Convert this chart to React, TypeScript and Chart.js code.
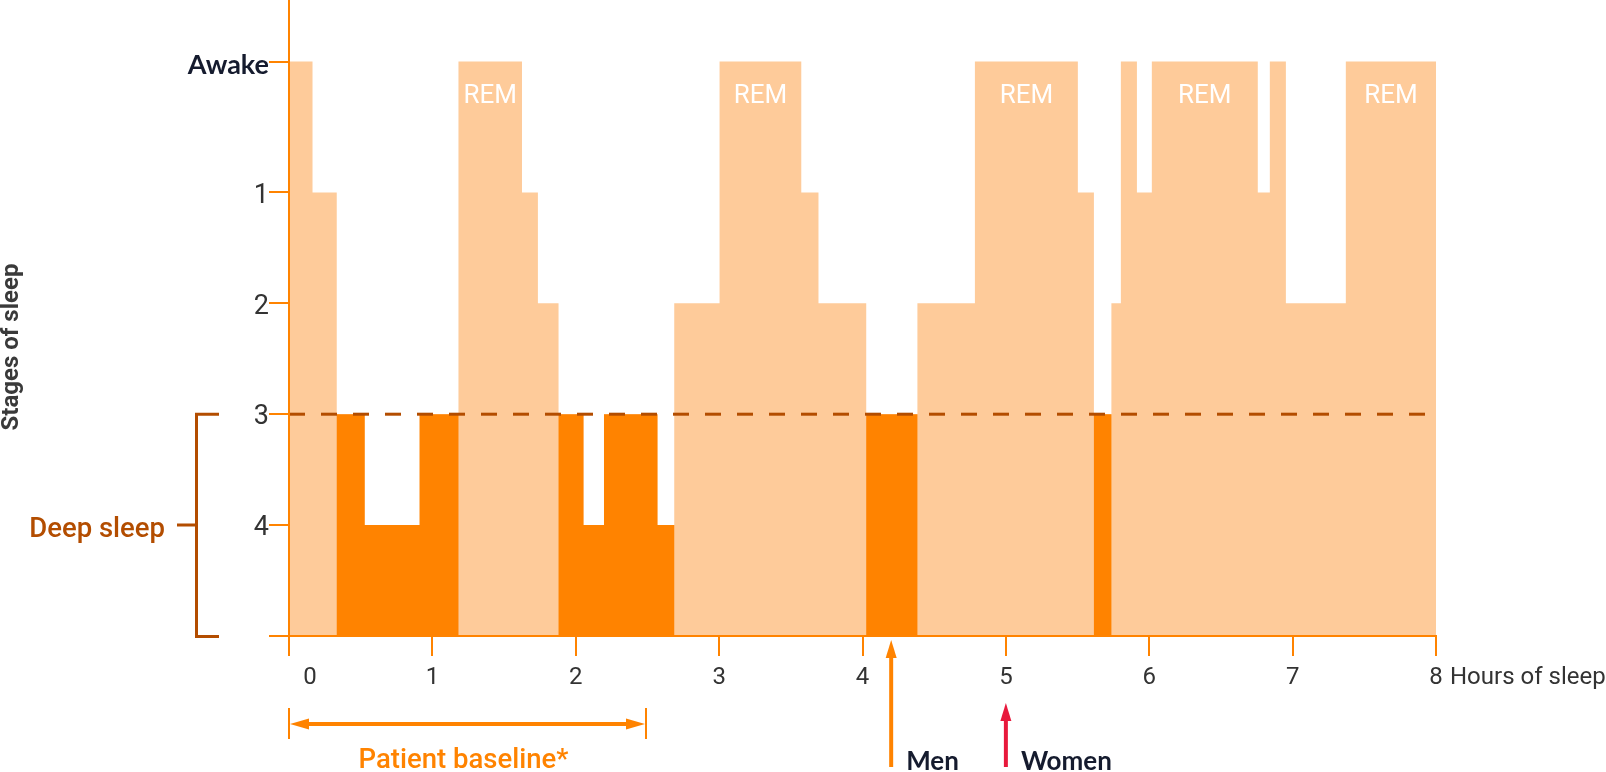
import React, { useEffect, useRef } from 'react';
import { Chart, registerables } from 'chart.js';

Chart.register(...registerables);

// ---- data ----
const HOURS_MAX = 8;
const segmentStarts = [
  0, 0.164, 0.333, 0.528, 0.911, 1.182, 1.625, 1.736, 1.88, 2.054, 2.197, 2.57, 2.687,
  3.003, 3.573, 3.693, 4.026, 4.383, 4.784, 5.502, 5.614, 5.736, 5.802, 5.914, 6.018,
  6.757, 6.841, 6.953, 7.371,
];
const segmentStages = [
  'Awake', '1', '3', '4', '3', 'REM', '1', '2', '3', '4', '3', '4', '2',
  'REM', '1', '2', '3', '2', 'REM', '1', '3', '2', 'Awake', '1', 'REM',
  '1', 'Awake', '2', 'REM',
];
const stageLevel: Record<string, number> = { '4': 1, '3': 2, '2': 3, '1': 4, REM: 5.18, Awake: 5.18 };
const deepStages = ['3', '4'];
const yTickValues = [0, 1, 2, 3, 4, 5.18];
const yTickLabels = ['', '4', '3', '2', '1', 'Awake'];
const xTickValues = [0, 1, 2, 3, 4, 5, 6, 7, 8];
const Y_MAX = 5.735;
const menHours = 4.2;
const womenHours = 5.0;
const baselineHours = 2.49;

// ---- styles ----
const ORANGE = '#FF8300';
const LIGHT = '#FECB9A';
const BROWN = '#B34D00';
const NAVY = '#151B2E';
const GREY = '#333333';
const RED = '#E8193C';
const X_FONT = 24;
const X_PAD = 8;

const segEnds = segmentStarts.slice(1).concat([HOURS_MAX]);

function stepData(deepOnly: boolean) {
  const pts = segmentStarts.map((s, i) => {
    const st = segmentStages[i];
    const lvl = stageLevel[st];
    return { x: s, y: deepOnly ? (deepStages.includes(st) ? lvl : 0) : lvl };
  });
  pts.push({ x: HOURS_MAX, y: pts[pts.length - 1].y });
  return pts;
}

function arrowUp(ctx: CanvasRenderingContext2D, x: number, tipY: number, bottomY: number, color: string) {
  ctx.save();
  ctx.strokeStyle = color;
  ctx.fillStyle = color;
  ctx.lineWidth = 4;
  ctx.beginPath();
  ctx.moveTo(x, bottomY);
  ctx.lineTo(x, tipY + 14);
  ctx.stroke();
  ctx.beginPath();
  ctx.moveTo(x, tipY);
  ctx.lineTo(x - 5.5, tipY + 18);
  ctx.lineTo(x + 5.5, tipY + 18);
  ctx.closePath();
  ctx.fill();
  ctx.restore();
}

const annotPlugin = {
  id: 'annot',
  afterDatasetsDraw(chart: any) {
    const { ctx, scales } = chart;
    const x = scales.x;
    const y = scales.y;
    // dashed deep sleep threshold
    ctx.save();
    ctx.strokeStyle = BROWN;
    ctx.lineWidth = 3;
    ctx.setLineDash([16, 16]);
    const yy = y.getPixelForValue(stageLevel['3']);
    ctx.beginPath();
    ctx.moveTo(x.getPixelForValue(0), yy);
    ctx.lineTo(x.getPixelForValue(HOURS_MAX), yy);
    ctx.stroke();
    ctx.restore();
    // REM labels
    ctx.save();
    ctx.fillStyle = '#FFFFFF';
    ctx.font = '26px Roboto';
    ctx.textAlign = 'center';
    ctx.textBaseline = 'middle';
    segmentStages.forEach((st, i) => {
      if (st !== 'REM') return;
      const cx = (x.getPixelForValue(segmentStarts[i]) + x.getPixelForValue(segEnds[i])) / 2;
      ctx.fillText('REM', cx, y.getPixelForValue(stageLevel.REM) + 35);
    });
    ctx.restore();
  },
  afterDraw(chart: any) {
    const { ctx, scales } = chart;
    const x = scales.x;
    const y = scales.y;
    const labelMid = x.top + 20 + X_PAD + (X_FONT * 1.2) / 2;
    ctx.save();
    // "0" tick label (shifted) and axis title
    ctx.fillStyle = GREY;
    ctx.font = `${X_FONT}px Roboto`;
    ctx.textBaseline = 'middle';
    ctx.textAlign = 'center';
    ctx.fillText('0', x.getPixelForValue(0) + 21, labelMid);
    ctx.textAlign = 'left';
    ctx.fillText('Hours of sleep', x.getPixelForValue(HOURS_MAX) + 14, labelMid);

    // y title
    ctx.save();
    ctx.translate(18, 347);
    ctx.rotate(-Math.PI / 2);
    ctx.font = 'bold 24px Roboto';
    ctx.fillStyle = '#3A3A3A';
    ctx.textAlign = 'center';
    ctx.textBaseline = 'alphabetic';
    ctx.fillText('Stages of sleep', 0, 0);
    ctx.restore();

    // Deep sleep bracket
    const yTop = y.getPixelForValue(stageLevel['3']);
    const yBot = y.getPixelForValue(0) + 0.5;
    const yMid = y.getPixelForValue(stageLevel['4']);
    ctx.strokeStyle = BROWN;
    ctx.lineWidth = 3;
    ctx.beginPath();
    ctx.moveTo(219, yTop);
    ctx.lineTo(196.5, yTop);
    ctx.lineTo(196.5, yBot);
    ctx.lineTo(219, yBot);
    ctx.moveTo(177, yMid);
    ctx.lineTo(196.5, yMid);
    ctx.stroke();
    ctx.fillStyle = BROWN;
    ctx.font = '500 27.5px Roboto';
    ctx.textAlign = 'right';
    ctx.textBaseline = 'alphabetic';
    ctx.fillText('Deep sleep', 165, yMid + 12);

    // Patient baseline arrow
    const bx0 = x.getPixelForValue(0);
    const bx1 = x.getPixelForValue(baselineHours);
    const by = 724;
    ctx.strokeStyle = ORANGE;
    ctx.fillStyle = ORANGE;
    ctx.lineWidth = 2;
    ctx.beginPath();
    ctx.moveTo(bx0, 708);
    ctx.lineTo(bx0, 739);
    ctx.moveTo(bx1, 708);
    ctx.lineTo(bx1, 739);
    ctx.stroke();
    ctx.lineWidth = 4;
    ctx.beginPath();
    ctx.moveTo(bx0 + 12, by);
    ctx.lineTo(bx1 - 12, by);
    ctx.stroke();
    ctx.beginPath();
    ctx.moveTo(bx0 + 1, by);
    ctx.lineTo(bx0 + 20, by - 5.5);
    ctx.lineTo(bx0 + 20, by + 5.5);
    ctx.closePath();
    ctx.fill();
    ctx.beginPath();
    ctx.moveTo(bx1 - 1, by);
    ctx.lineTo(bx1 - 20, by - 5.5);
    ctx.lineTo(bx1 - 20, by + 5.5);
    ctx.closePath();
    ctx.fill();
    ctx.font = '500 27.5px Roboto';
    ctx.textAlign = 'center';
    ctx.fillText('Patient baseline*', (bx0 + bx1) / 2 - 4, 768);

    // Men / Women arrows
    const mx = x.getPixelForValue(menHours);
    const wx = x.getPixelForValue(womenHours);
    arrowUp(ctx, mx, 640, 767, ORANGE);
    arrowUp(ctx, wx, 703, 767, RED);
    ctx.fillStyle = NAVY;
    ctx.font = 'bold 26px Lato';
    ctx.textAlign = 'left';
    ctx.textBaseline = 'alphabetic';
    ctx.fillText('Men', mx + 15, 770);
    ctx.fillText('Women', wx + 15, 770);
    ctx.restore();
  },
};

export default function App() {
  const ref = useRef<HTMLCanvasElement>(null);
  useEffect(() => {
    document.body.style.margin = '0';
    const canvas = ref.current;
    if (!canvas) return;
    const chart = new Chart(canvas, {
      type: 'line',
      data: {
        datasets: [
          {
            label: 'Deep sleep',
            data: stepData(true),
            stepped: true,
            fill: 'origin',
            backgroundColor: ORANGE,
            borderColor: 'rgba(0,0,0,0)',
            borderWidth: 0,
            pointRadius: 0,
          },
          {
            label: 'Sleep stage',
            data: stepData(false),
            stepped: true,
            fill: 'origin',
            backgroundColor: LIGHT,
            borderColor: 'rgba(0,0,0,0)',
            borderWidth: 0,
            pointRadius: 0,
          },
        ],
      },
      options: {
        responsive: false,
        animation: false,
        layout: { padding: { left: 0, right: 170, top: 0, bottom: 0 } },
        plugins: { legend: { display: false }, tooltip: { enabled: false } },
        scales: {
          x: {
            type: 'linear',
            min: 0,
            max: HOURS_MAX,
            afterBuildTicks: (s: any) => {
              s.ticks = xTickValues.map((v) => ({ value: v }));
            },
            afterFit: (s: any) => {
              s.height = 136;
              s.paddingLeft = 0;
              s.paddingRight = 0;
            },
            grid: { drawOnChartArea: false, color: ORANGE, lineWidth: 2, tickLength: 20 },
            border: { color: ORANGE, width: 2, z: 1 },
            ticks: {
              autoSkip: false,
              maxRotation: 0,
              padding: X_PAD,
              color: GREY,
              font: { family: 'Roboto', size: X_FONT },
              callback: (v: any) => (v === 0 ? '' : String(v)),
            },
          },
          y: {
            type: 'linear',
            min: 0,
            max: Y_MAX,
            afterBuildTicks: (s: any) => {
              s.ticks = yTickValues.map((v) => ({ value: v }));
            },
            afterFit: (s: any) => {
              s.width = 289;
              s.paddingTop = 0;
              s.paddingBottom = 0;
            },
            grid: { drawOnChartArea: false, color: ORANGE, lineWidth: 2, tickLength: 20 },
            border: { color: ORANGE, width: 2, z: 1 },
            ticks: {
              autoSkip: false,
              padding: 0,
              labelOffset: 3.5,
              color: (c: any) => (c.index === yTickLabels.length - 1 ? NAVY : GREY),
              font: (c: any) =>
                c.index === yTickLabels.length - 1
                  ? { family: 'Lato', size: 27, weight: 'bold' }
                  : { family: 'Roboto', size: 27 },
              callback: (_v: any, i: number) => yTickLabels[i],
            },
          },
        },
      },
      plugins: [annotPlugin],
    } as any);
    return () => chart.destroy();
  }, []);
  return (
    <div style={{ width: 1606, height: 772 }}>
      <canvas ref={ref} width={1606} height={772} style={{ display: 'block' }} />
    </div>
  );
}
